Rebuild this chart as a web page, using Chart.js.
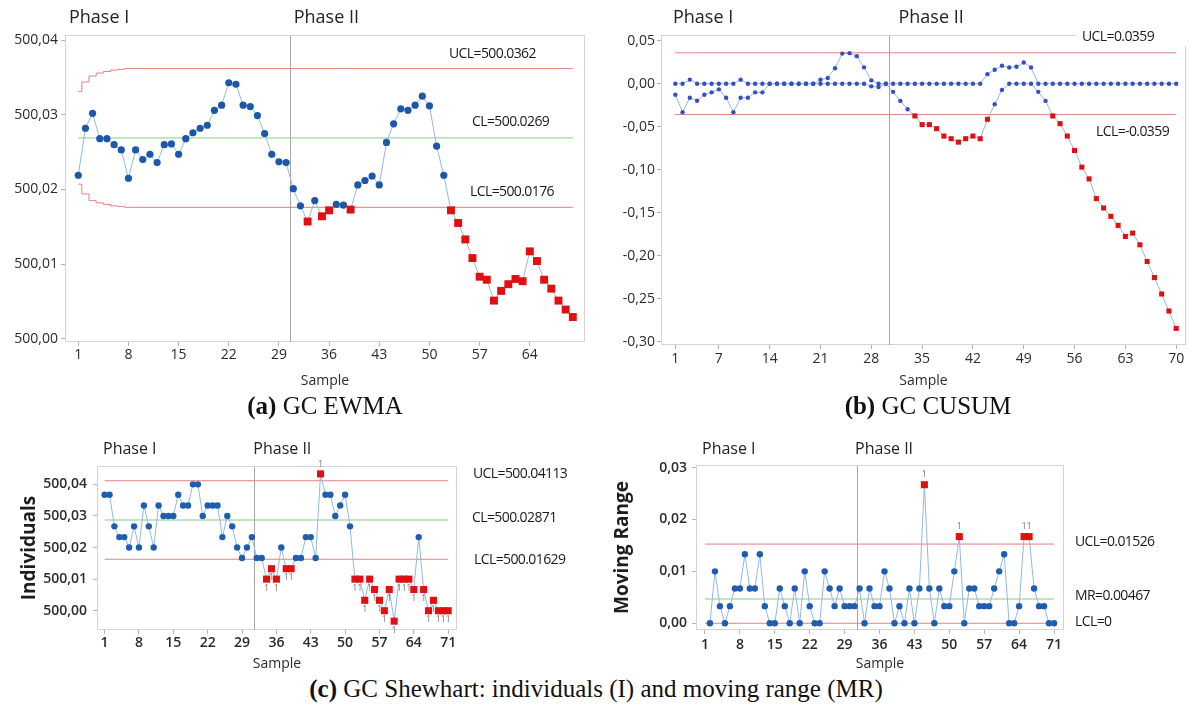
<!DOCTYPE html>
<html>
<head>
<meta charset="utf-8">
<script src="https://cdn.jsdelivr.net/npm/chart.js@4.4.1/dist/chart.umd.min.js"></script>
<style>
  body { margin: 0; background: #fff; width: 1193px; height: 713px; position: relative; overflow: hidden; }
  canvas { position: absolute; }
  .cap {
    position: absolute; white-space: nowrap; transform: translateX(-50%);
    font-family: "Liberation Serif", "Times New Roman", serif; font-size: 25px; color: #111;
  }
</style>
</head>
<body>
<canvas id="ewma" width="600" height="395" style="left:0;top:0"></canvas>
<canvas id="cusum" width="593" height="395" style="left:600px;top:0"></canvas>
<canvas id="indiv" width="600" height="245" style="left:0;top:430px"></canvas>
<canvas id="mrange" width="593" height="245" style="left:600px;top:430px"></canvas>
<div class="cap" style="left:325px;top:392px"><b>(a)</b> GC EWMA</div>
<div class="cap" style="left:928px;top:392px"><b>(b)</b> GC CUSUM</div>
<div class="cap" style="left:596px;top:675px"><b>(c)</b> GC Shewhart: individuals (I) and moving range (MR)</div>
<script>
// ---- EWMA statistic, samples 1..70 ----
const EWMA = [
  500.0219, 500.0282, 500.0302, 500.0268, 500.0268, 500.0260, 500.0253, 500.0215, 500.0253, 500.0240,
  500.0247, 500.0236, 500.0260, 500.0261, 500.0247, 500.0268, 500.0276, 500.0282, 500.0286, 500.0306,
  500.0313, 500.0343, 500.0341, 500.0313, 500.0311, 500.0299, 500.0275, 500.0247, 500.0237, 500.0236,
  500.0201, 500.0178, 500.0157, 500.0185, 500.0164, 500.0172, 500.0180, 500.0179, 500.0173, 500.0206,
  500.0212, 500.0218, 500.0206, 500.0263, 500.0288, 500.0308, 500.0306, 500.0313, 500.0325, 500.0312,
  500.0258, 500.0219, 500.0172, 500.0155, 500.0133, 500.0108, 500.0083, 500.0079, 500.0051, 500.0064,
  500.0073, 500.0080, 500.0077, 500.0117, 500.0104, 500.0079, 500.0067, 500.0051, 500.0039, 500.0029
];
const EWMA_LIMIT_SAMPLES = [1, 2, 3, 4, 5, 6, 7, 8, 70];
const EWMA_UCL = [500.0331, 500.0344, 500.0352, 500.0356, 500.0358, 500.0360, 500.0361, 500.0362, 500.0362];
const EWMA_LCL = [500.0207, 500.0194, 500.0185, 500.0182, 500.0180, 500.0178, 500.0177, 500.0176, 500.0176];
const EWMA_CL = 500.0269;
const EWMA_X_TICKS = [1, 8, 15, 22, 29, 36, 43, 50, 57, 64];
const EWMA_Y_TICKS = [500.00, 500.01, 500.02, 500.03, 500.04];

// ---- CUSUM, upper and lower sums, samples 1..70 ----
const CUSUM_UP = [
  0, 0, 0.0047, 0, 0, 0, 0, 0, 0, 0.0047,
  0, 0, 0, 0, 0, 0, 0, 0, 0, 0,
  0.0047, 0.0066, 0.0180, 0.0350, 0.0355, 0.0320, 0.0190, 0.0039, 0, 0,
  0, 0, 0, 0, 0, 0, 0, 0, 0, 0,
  0, 0, 0, 0.0111, 0.0162, 0.0208, 0.0189, 0.0197, 0.0247, 0.0189,
  0, 0, 0, 0, 0, 0, 0, 0, 0, 0,
  0, 0, 0, 0, 0, 0, 0, 0, 0, 0
];
const CUSUM_LO = [
  -0.0128, -0.0331, -0.0163, -0.0198, -0.0128, -0.0101, -0.0066, -0.0163, -0.0331, -0.0163,
  -0.0163, -0.0101, -0.0101, 0, 0, 0, 0, 0, 0, 0,
  0, 0, 0, 0, 0, 0, 0, -0.0031, -0.0039, 0,
  -0.0095, -0.0200, -0.0297, -0.0375, -0.0476, -0.0476, -0.0523, -0.0609, -0.0640, -0.0679,
  -0.0640, -0.0609, -0.0640, -0.0414, -0.0239, -0.0072, 0, 0, 0, 0,
  -0.0095, -0.0200, -0.0375, -0.0465, -0.0609, -0.0776, -0.0970, -0.1107, -0.1336, -0.1445,
  -0.1542, -0.1647, -0.1776, -0.1737, -0.1873, -0.2067, -0.2254, -0.2445, -0.2643, -0.2845
];
const CUSUM_H = 0.0359;
const CUSUM_X_TICKS = [1, 7, 14, 21, 28, 35, 42, 49, 56, 63, 70];
const CUSUM_Y_TICKS = [0.05, 0, -0.05, -0.10, -0.15, -0.20, -0.25, -0.30];

// ---- Shewhart individuals (samples 1..71) and moving range (samples 2..71) ----
const INDIV = [
  500.0367, 500.0367, 500.0267, 500.0233, 500.0233, 500.0200, 500.0267, 500.0200, 500.0333, 500.0267,
  500.0200, 500.0333, 500.0300, 500.0300, 500.0300, 500.0367, 500.0333, 500.0333, 500.0400, 500.0400,
  500.0300, 500.0333, 500.0333, 500.0333, 500.0233, 500.0300, 500.0267, 500.0200, 500.0167, 500.0200,
  500.0233, 500.0167, 500.0167, 500.0100, 500.0133, 500.0100, 500.0200, 500.0133, 500.0133, 500.0167,
  500.0167, 500.0233, 500.0233, 500.0167, 500.0433, 500.0367, 500.0367, 500.0300, 500.0333, 500.0367,
  500.0267, 500.0100, 500.0100, 500.0033, 500.0100, 500.0067, 500.0033, 500.0000, 500.0067, 499.9967,
  500.0100, 500.0100, 500.0100, 500.0067, 500.0233, 500.0067, 500.0000, 500.0033, 500.0000, 500.0000,
  500.0000
];
const MR = [
          0, 0.0100, 0.0033, 0, 0.0033, 0.0067, 0.0067, 0.0133, 0.0067,
  0.0067, 0.0133, 0.0033, 0, 0, 0.0067, 0.0033, 0, 0.0067, 0,
  0.0100, 0.0033, 0, 0, 0.0100, 0.0067, 0.0033, 0.0067, 0.0033, 0.0033,
  0.0033, 0.0067, 0, 0.0067, 0.0033, 0.0033, 0.0100, 0.0067, 0, 0.0033,
  0, 0.0067, 0, 0.0067, 0.0267, 0.0067, 0, 0.0067, 0.0033, 0.0033,
  0.0100, 0.0167, 0, 0.0067, 0.0067, 0.0033, 0.0033, 0.0033, 0.0067, 0.0100,
  0.0133, 0, 0, 0.0033, 0.0167, 0.0167, 0.0067, 0.0033, 0.0033, 0,
  0
];
const I_UCL = 500.04113, I_CL = 500.02871, I_LCL = 500.01629;
const MR_UCL = 0.01526, MR_CL = 0.00467, MR_LCL = 0;
const SHEW_X_TICKS = [1, 8, 15, 22, 29, 36, 43, 50, 57, 64, 71];
const I_Y_TICKS = [500.00, 500.01, 500.02, 500.03, 500.04];
const MR_Y_TICKS = [0, 0.01, 0.02, 0.03];

const LINE_BLUE = '#92b8e3';
const RED = '#e10f0f';
const LIMIT_RED = '#e47f7f';
const LIMIT_GREEN = '#86cc86';
const FONT = '"Open Sans", "Noto Sans", "DejaVu Sans", sans-serif';

Chart.defaults.font.family = FONT;
Chart.defaults.font.size = 14;
Chart.defaults.color = '#2b2b2b';

const comma = (digits) => (v) => Number(v).toFixed(digits).replace('.', ',');

// frame, stage divider, stage captions, limit captions and test flags
const spcPlugin = {
  id: 'spc',
  beforeDatasetsDraw(chart, _args, o) {
    const { ctx, chartArea: a } = chart;
    ctx.save();
    ctx.lineWidth = 1;
    ctx.strokeStyle = '#d4d4d4';
    ctx.strokeRect(a.left + 0.5, a.top + 0.5, a.right - a.left - 1, a.bottom - a.top - 1);
    const px = Math.round(chart.scales.x.getPixelForValue(o.split)) + 0.5;
    ctx.strokeStyle = '#a6a6a6';
    ctx.beginPath();
    ctx.moveTo(px, a.top + 1);
    ctx.lineTo(px, a.bottom);
    ctx.stroke();
    ctx.restore();
  },
  afterDraw(chart, _args, o) {
    const { ctx, chartArea: a } = chart;
    const xs = chart.scales.x, ys = chart.scales.y;
    ctx.save();
    ctx.textBaseline = 'middle';
    ctx.fillStyle = '#222';
    ctx.font = o.phaseFont;
    ctx.fillText('Phase I', a.left + o.phaseDx[0], o.phaseY);
    ctx.fillText('Phase II', xs.getPixelForValue(o.split) + o.phaseDx[1], o.phaseY);

    ctx.font = '14px ' + FONT;
    ctx.letterSpacing = '-0.6px';
    o.labels.forEach((l) => {
      const ly = ys.getPixelForValue(l.value) + l.dy;
      if (l.knockout) {
        ctx.fillStyle = '#fff';
        ctx.fillRect(l.x - 5, ly - 9, chart.width - l.x + 5, 18);
      }
      ctx.fillStyle = '#1a1a1a';
      ctx.fillText(l.text, l.x, ly);
    });

    if (o.flag) {
      ctx.letterSpacing = '0px';
      ctx.font = '9px ' + FONT;
      ctx.fillStyle = '#777';
      ctx.textAlign = 'center';
      const pts = chart.getDatasetMeta(0).data;
      const raw = chart.data.datasets[0].data;
      pts.forEach((pt, i) => {
        const dir = o.flag(raw[i].y);
        if (dir) ctx.fillText('1', pt.x, pt.y + dir * o.flagGap);
      });
    }
    ctx.restore();
  }
};

function series(values, first, isOut, look) {
  return {
    data: values.map((v, i) => ({ x: first + i, y: v })),
    borderColor: LINE_BLUE,
    borderWidth: 1,
    pointBorderWidth: 0,
    pointStyle: (c) => (isOut(c.raw.y) ? 'rect' : 'circle'),
    pointRadius: (c) => (isOut(c.raw.y) ? look.sq : look.dot),
    pointBackgroundColor: (c) => (isOut(c.raw.y) ? RED : look.blue),
    order: 0
  };
}

function limit(xs, ys, color, stepped) {
  return {
    data: xs.map((x, i) => ({ x, y: ys[i] })),
    borderColor: color,
    borderWidth: 1,
    pointRadius: 0,
    stepped: stepped || false,
    order: 1
  };
}

function controlChart(id, c) {
  const el = document.getElementById(id);
  const W = el.width, H = el.height, area = c.area;
  return new Chart(el, {
    type: 'line',
    data: { datasets: c.datasets },
    options: {
      responsive: false,
      animation: false,
      devicePixelRatio: 1,
      layout: { padding: { top: area.top, right: W - area.right, bottom: 0, left: 0 } },
      plugins: { legend: { display: false }, tooltip: { enabled: false }, spc: c.spc },
      scales: {
        x: {
          type: 'linear', min: c.xMin, max: c.xMax,
          afterBuildTicks: (s) => { s.ticks = c.xTicks.map((v) => ({ value: v })); },
          afterFit: (s) => { s.height = H - area.bottom; },
          ticks: { autoSkip: false, maxRotation: 0, padding: c.xPad, font: c.tickFont },
          grid: { drawOnChartArea: false, drawTicks: true, tickLength: 4, color: '#b3b3b3' },
          border: { display: false },
          title: { display: true, text: 'Sample', font: { size: 14 }, padding: { top: 0, bottom: c.titlePad } }
        },
        y: {
          type: 'linear', min: c.yMin, max: c.yMax,
          afterBuildTicks: (s) => { s.ticks = c.yTicks.map((v) => ({ value: v })); },
          afterFit: (s) => { s.width = area.left; },
          ticks: { autoSkip: false, padding: c.yPad, font: c.tickFont, callback: c.yFmt },
          grid: { drawOnChartArea: false, drawTicks: true, tickLength: 4, color: '#b3b3b3' },
          border: { display: false },
          title: c.yTitle
            ? { display: true, text: c.yTitle, font: { size: 19, weight: 'bold' }, color: '#1d1d1d', padding: { top: c.yTitlePad, bottom: 0 } }
            : { display: false }
        }
      }
    },
    plugins: [spcPlugin]
  });
}

// (a) EWMA
const ewmaOut = (v) => v < EWMA_LCL[EWMA_LCL.length - 1] || v > EWMA_UCL[EWMA_UCL.length - 1];
controlChart('ewma', {
  area: { left: 65, top: 35, right: 585, bottom: 342 },
  xMin: -0.85, xMax: 71.7, yMin: 499.99955, yMax: 500.0407,
  xTicks: EWMA_X_TICKS, yTicks: EWMA_Y_TICKS, yFmt: comma(2),
  xPad: 1, yPad: 3, titlePad: 6, tickFont: { size: 14 },
  datasets: [
    series(EWMA, 1, ewmaOut, { dot: 3.6, sq: 5.6, blue: '#1d58a8' }),
    limit(EWMA_LIMIT_SAMPLES, EWMA_UCL, LIMIT_RED, 'middle'),
    limit([1, 70], [EWMA_CL, EWMA_CL], LIMIT_GREEN),
    limit(EWMA_LIMIT_SAMPLES, EWMA_LCL, LIMIT_RED, 'middle')
  ],
  spc: {
    split: 30.5, phaseFont: '18px ' + FONT, phaseDx: [4, 4], phaseY: 18,
    labels: [
      { text: 'UCL=500.0362', value: 500.0362, x: 449, dy: -15 },
      { text: 'CL=500.0269', value: EWMA_CL, x: 472, dy: -16 },
      { text: 'LCL=500.0176', value: 500.0176, x: 470, dy: -15 }
    ]
  }
});

// (b) CUSUM
const cusumOut = (v) => v < -CUSUM_H || v > CUSUM_H;
controlChart('cusum', {
  area: { left: 61, top: 35, right: 586, bottom: 345 },
  xMin: -0.97, xMax: 71.35, yMin: -0.3038, yMax: 0.0566,
  xTicks: CUSUM_X_TICKS, yTicks: CUSUM_Y_TICKS, yFmt: comma(2),
  xPad: 2, yPad: 2, titlePad: 6, tickFont: { size: 14 },
  datasets: [
    series(CUSUM_LO, 1, cusumOut, { dot: 2.2, sq: 3.6, blue: '#3550c4' }),
    series(CUSUM_UP, 1, cusumOut, { dot: 2.2, sq: 3.6, blue: '#3550c4' }),
    limit([1, 70], [CUSUM_H, CUSUM_H], LIMIT_RED),
    limit([1, 70], [-CUSUM_H, -CUSUM_H], LIMIT_RED)
  ],
  spc: {
    split: 30.5, phaseFont: '18px ' + FONT, phaseDx: [12, 9], phaseY: 18,
    labels: [
      { text: 'UCL=0.0359', value: CUSUM_H, x: 482, dy: -16, knockout: true },
      { text: 'LCL=-0.0359', value: -CUSUM_H, x: 496, dy: 17 }
    ]
  }
});

// (c) individuals
const iOut = (v) => v < I_LCL || v > I_UCL;
controlChart('indiv', {
  area: { left: 97, top: 36, right: 457, bottom: 200 },
  xMin: -0.55, xMax: 72.8, yMin: 499.9939, yMax: 500.0458,
  xTicks: SHEW_X_TICKS, yTicks: I_Y_TICKS, yFmt: comma(2),
  xPad: 1, yPad: 6, titlePad: 3, tickFont: { size: 14, weight: '600' },
  yTitle: 'Individuals', yTitlePad: 18,
  datasets: [
    series(INDIV, 1, iOut, { dot: 3.2, sq: 5, blue: '#1f5db0' }),
    limit([1, 71], [I_UCL, I_UCL], LIMIT_RED),
    limit([1, 71], [I_CL, I_CL], LIMIT_GREEN),
    limit([1, 71], [I_LCL, I_LCL], LIMIT_RED)
  ],
  spc: {
    split: 31.5, phaseFont: '16px ' + FONT, phaseDx: [6, -1], phaseY: 19,
    labels: [
      { text: 'UCL=500.04113', value: I_UCL, x: 473, dy: -7 },
      { text: 'CL=500.02871', value: I_CL, x: 472, dy: -2 },
      { text: 'LCL=500.01629', value: I_LCL, x: 474, dy: 1 }
    ],
    flag: (v) => (v > I_UCL ? -1 : v < I_LCL ? 1 : 0), flagGap: 9
  }
});

// (c) moving range
const mrOut = (v) => v > MR_UCL;
controlChart('mrange', {
  area: { left: 96, top: 35, right: 464, bottom: 200 },
  xMin: -0.8, xMax: 73, yMin: -0.0013, yMax: 0.0305,
  xTicks: SHEW_X_TICKS, yTicks: MR_Y_TICKS, yFmt: comma(2),
  xPad: 3, yPad: 5, titlePad: 3, tickFont: { size: 14, weight: '600' },
  yTitle: 'Moving Range', yTitlePad: 11,
  datasets: [
    series(MR, 2, mrOut, { dot: 3.2, sq: 5, blue: '#1f5db0' }),
    limit([1, 71], [MR_UCL, MR_UCL], LIMIT_RED),
    limit([1, 71], [MR_CL, MR_CL], LIMIT_GREEN),
    limit([1, 71], [MR_LCL, MR_LCL], LIMIT_RED)
  ],
  spc: {
    split: 31.5, phaseFont: '16px ' + FONT, phaseDx: [6, -2], phaseY: 19,
    labels: [
      { text: 'UCL=0.01526', value: MR_UCL, x: 475, dy: -2 },
      { text: 'MR=0.00467', value: MR_CL, x: 475, dy: -3 },
      { text: 'LCL=0', value: MR_LCL, x: 475, dy: -1 }
    ],
    flag: (v) => (v > MR_UCL ? -1 : 0), flagGap: 10
  }
});
</script>
</body>
</html>
